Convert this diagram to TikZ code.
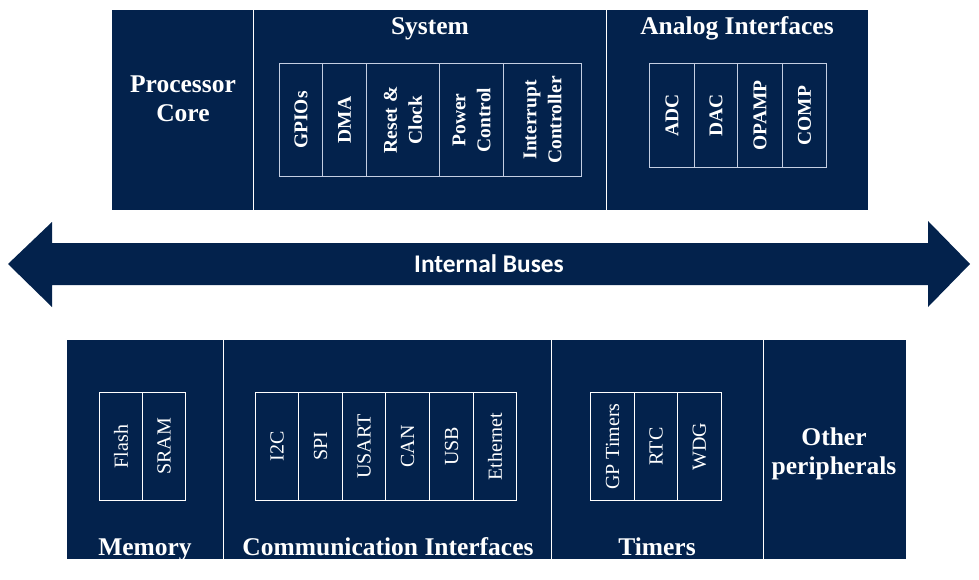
\documentclass[tikz,border=0pt]{standalone}
\usepackage{fontspec}
\setmainfont{Liberation Serif}
\newfontfamily\busfont{Carlito}
\definecolor{navy}{RGB}{3,34,76}
\definecolor{cellline}{RGB}{196,206,226}
\tikzset{
  panel/.style={fill=navy, draw=none, inner sep=0pt, anchor=north west},
  divider/.style={draw=white, line width=1.4pt},
  title/.style={text=white, font=\bfseries\fontsize{25.5}{29}\selectfont, inner sep=0pt, align=center},
  topcell/.style={draw=cellline, line width=1pt, inner sep=0pt},
  botcell/.style={draw=white, line width=1pt, inner sep=0pt},
  vbold/.style={text=white, font=\bfseries\fontsize{19.5}{25}\selectfont, inner sep=0pt, align=center},
  vreg/.style={text=white, font=\fontsize{20}{24}\selectfont, inner sep=0pt, align=center},
  busarrow/.style={fill=navy, draw=none},
  buslabel/.style={text=white, font=\busfont\bfseries\fontsize{25.4}{29}\selectfont, inner sep=0pt}
}
\newcommand{\mycell}[8]{%
  \node[#6, minimum width={(#3-#2)*1pt}, minimum height={(#5-#4)*1pt}, anchor=north west] (#1) at (#2,#4) {};
  \node[#7, rotate=90] (#1t) at (#1.center) {#8};}
\begin{document}
\begin{tikzpicture}[x=1pt,y=-1pt]
\useasboundingbox (0,0) rectangle (979,580);
% top panels
\node[panel, minimum width=141pt, minimum height=200pt] (proc) at (112,10) {};
\node[panel, minimum width=353pt, minimum height=200pt] (sys) at (253,10) {};
\node[panel, minimum width=262pt, minimum height=200pt] (ana) at (606,10) {};
\draw[divider] (proc.north east) -- (proc.south east);
\draw[divider] (sys.north east) -- (sys.south east);
\node[title] (proctitle) at (183,99) {Processor\\Core};
\node[title, anchor=base] (systitle) at (430,35) {System};
\node[title, anchor=base] (anatitle) at (737,35) {Analog Interfaces};
% system cells
\mycell{gpio}{279}{322}{63}{176}{topcell}{vbold}{GPIOs}
\mycell{dma}{322}{366}{63}{176}{topcell}{vbold}{DMA}
\mycell{rst}{366}{439}{63}{176}{topcell}{vbold}{Reset \&\\Clock}
\mycell{pwr}{439}{503}{63}{176}{topcell}{vbold}{Power\\Control}
\mycell{irq}{503}{581}{63}{176}{topcell}{vbold}{Interrupt\\Controller}
% analog cells
\mycell{adc}{649}{694}{63}{167}{topcell}{vbold}{ADC}
\mycell{dac}{694}{737}{63}{167}{topcell}{vbold}{DAC}
\mycell{opamp}{737}{782}{63}{167}{topcell}{vbold}{OPAMP}
\mycell{comp}{782}{826}{63}{167}{topcell}{vbold}{COMP}
% bus arrow
\path[busarrow] (8,264) -- (52,222) -- (52,243) -- (928,243) -- (928,221) -- (970,264)
  -- (928,307) -- (928,285) -- (52,285) -- (52,307) -- cycle;
\node[buslabel] (bus) at (489,264) {Internal Buses};
% bottom panels
\node[panel, minimum width=156pt, minimum height=219pt] (mem) at (67,340) {};
\node[panel, minimum width=328pt, minimum height=219pt] (comm) at (223,340) {};
\node[panel, minimum width=212pt, minimum height=219pt] (tim) at (551,340) {};
\node[panel, minimum width=143pt, minimum height=219pt] (oth) at (763,340) {};
\draw[divider] (mem.north east) -- (mem.south east);
\draw[divider] (comm.north east) -- (comm.south east);
\draw[divider] (tim.north east) -- (tim.south east);
\node[title, anchor=base] (memtitle) at (145,555) {Memory};
\node[title, anchor=base] (commtitle) at (388,555) {Communication Interfaces};
\node[title, anchor=base] (timtitle) at (657,555) {Timers};
\node[title] (othtitle) at (834,454) {Other\\peripherals};
% memory cells
\mycell{flash}{99}{142}{392}{500}{botcell}{vreg}{Flash}
\mycell{sram}{142}{185}{392}{500}{botcell}{vreg}{SRAM}
% comm cells
\mycell{iic}{255}{298}{392}{500}{botcell}{vreg}{I2C}
\mycell{spi}{298}{342}{392}{500}{botcell}{vreg}{SPI}
\mycell{usart}{342}{385}{392}{500}{botcell}{vreg}{USART}
\mycell{can}{385}{429}{392}{500}{botcell}{vreg}{CAN}
\mycell{usb}{429}{473}{392}{500}{botcell}{vreg}{USB}
\mycell{eth}{473}{516}{392}{500}{botcell}{vreg}{Ethernet}
% timer cells
\mycell{gpt}{590}{634}{392}{500}{botcell}{vreg}{GP Timers}
\mycell{rtc}{634}{677}{392}{500}{botcell}{vreg}{RTC}
\mycell{wdg}{677}{721}{392}{500}{botcell}{vreg}{WDG}
\end{tikzpicture}
\end{document}
